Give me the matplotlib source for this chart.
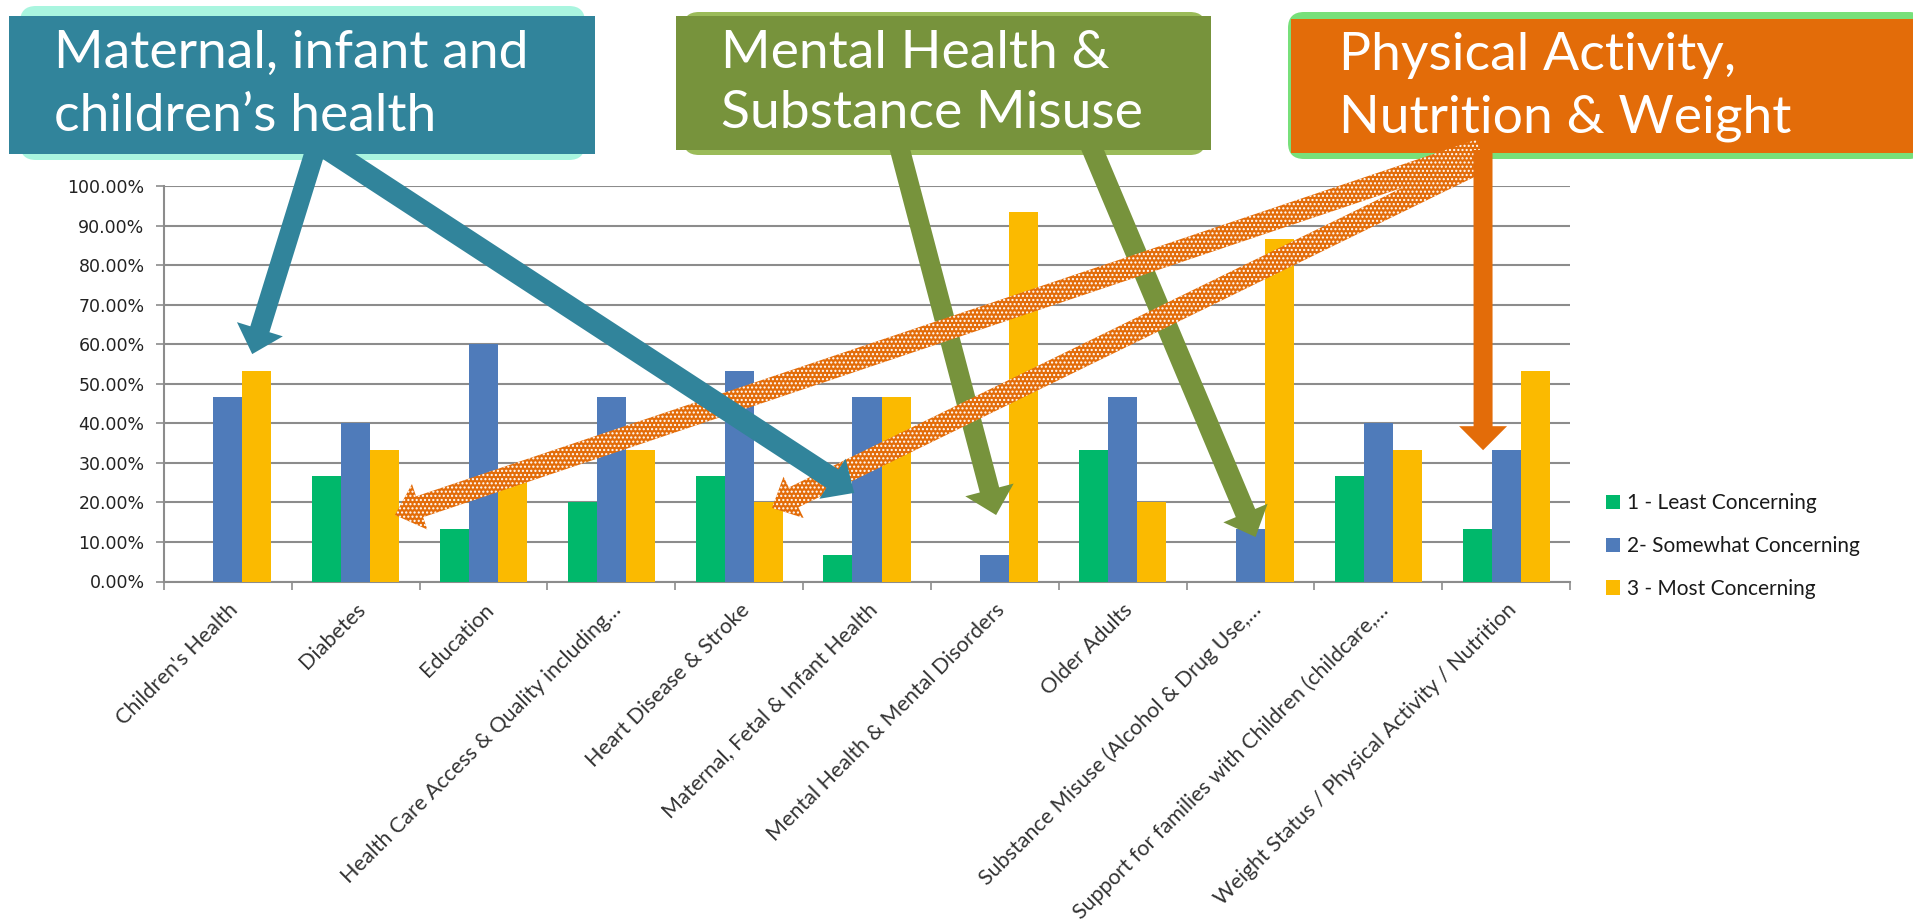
import matplotlib
matplotlib.use('Agg')
import matplotlib.pyplot as plt
import matplotlib.ticker as mticker
from matplotlib.patches import FancyBboxPatch, Rectangle, FancyArrow, Patch

W, H = 1913, 919
plt.rcParams['hatch.color'] = 'white'
plt.rcParams['hatch.linewidth'] = 1.0

# data (share of respondents, %)
categories = [
    "Children's Health",
    'Diabetes',
    'Education',
    'Health Care Access & Quality including…',
    'Heart Disease & Stroke',
    'Maternal, Fetal & Infant Health',
    'Mental Health & Mental Disorders',
    'Older Adults',
    'Substance Misuse (Alcohol & Drug Use,…',
    'Support for families with Children (childcare,…',
    'Weight Status / Physical Activity / Nutrition',
]
least = [0, 26.67, 13.33, 20.0, 26.67, 6.67, 0, 33.33, 0, 26.67, 13.33]
somewhat = [46.67, 40.0, 60.0, 46.67, 53.33, 46.67, 6.67, 46.67, 13.33, 40.0, 33.33]
most = [53.33, 33.33, 26.67, 33.33, 20.0, 46.67, 93.33, 20.0, 86.67, 33.33, 53.33]
series_names = ['1 - Least Concerning', '2- Somewhat Concerning', '3 - Most Concerning']

COLORS = {
    'green': '#00B86B',
    'blue': '#4F7BBA',
    'yellow': '#FBBA00',
    'teal': '#31849B',
    'mint': '#A9F5DF',
    'olive': '#77933C',
    'olive_light': '#9BBB59',
    'orange': '#E36C09',
    'lime': '#77E07A',
    'grid': '#8C8C8C',
}

fig = plt.figure(figsize=(W / 100, H / 100), dpi=100)
ax = fig.add_axes([164 / W, 1 - 581.5 / H, (1570 - 164) / W, (581.5 - 186) / H])

bw = 0.227
x = list(range(len(categories)))
for k, (vals, col) in enumerate(zip([least, somewhat, most],
                                    [COLORS['green'], COLORS['blue'], COLORS['yellow']])):
    ax.bar([i + (k - 1) * bw for i in x], [v / 100 for v in vals], width=bw,
           color=col, zorder=3, label=series_names[k])

ax.set_xlim(-0.5, len(categories) - 0.5)
ax.set_ylim(0, 1)
ax.set_yticks([i / 10 for i in range(11)])
ax.yaxis.set_major_formatter(mticker.FuncFormatter(lambda v, p: f'{v*100:.2f}%'))
ax.grid(True, axis='y', color=COLORS['grid'], linewidth=1.5, zorder=0)
ax.set_axisbelow(True)
for s in ['top', 'right']:
    ax.spines[s].set_visible(False)
for s in ['left', 'bottom']:
    ax.spines[s].set_color(COLORS['grid'])
    ax.spines[s].set_linewidth(1.5)
ax.tick_params(axis='y', length=6, width=1.2, color=COLORS['grid'], pad=8,
               labelsize=12.5, labelcolor='#222222')

ax.set_xticks(x)
ax.set_xticklabels(categories, rotation=45, ha='right', va='top', rotation_mode='anchor',
                   fontsize=15.5, family='Lato', color='#333333')
ax.tick_params(axis='x', which='major', length=0, pad=13)
ax.set_xticks([i - 0.5 for i in range(len(categories) + 1)], minor=True)
ax.tick_params(axis='x', which='minor', length=6, width=1.2, color=COLORS['grid'])

handles = [Patch(facecolor=c) for c in [COLORS['green'], COLORS['blue'], COLORS['yellow']]]
ax.legend(handles, series_names, loc='center left', bbox_to_anchor=(1606 / W, 1 - 546 / H),
          bbox_transform=fig.transFigure, frameon=False, borderpad=0, borderaxespad=0,
          handlelength=0.68, handleheight=0.68, handletextpad=0.35, labelspacing=1.1,
          prop={'family': 'Lato', 'size': 15}, labelcolor='#1A1A1A')

# overlay in pixel units (y down) for callout boxes and arrows
ov = fig.add_axes([0, 0, 1, 1])
ov.set_xlim(0, W)
ov.set_ylim(H, 0)
ov.axis('off')
ov.patch.set_visible(False)


def to_px(xd, yd):
    X, Y = ax.transData.transform((xd, yd))
    return X, H - Y


def callout(rect, back, color, back_color, lines, text_x, baselines):
    bx0, by0, bx1, by1 = back
    ov.add_patch(FancyBboxPatch((bx0, by0), bx1 - bx0, by1 - by0,
                                boxstyle='round,pad=0,rounding_size=16',
                                fc=back_color, ec='none', zorder=1))
    x0, y0, x1, y1 = rect
    ov.add_patch(Rectangle((x0, y0), x1 - x0, y1 - y0, fc=color, ec='none', zorder=2))
    for line, yb in zip(lines, baselines):
        ov.text(text_x, yb, line, color='white', fontsize=38.5, family='Lato',
                va='baseline', ha='left', zorder=10)


callout((9, 16, 595, 154), (20, 6, 585, 160), COLORS['teal'], COLORS['mint'],
        ['Maternal, infant and', 'children’s health'], 54, [68, 131])
callout((676, 16, 1211, 150), (683, 12, 1206, 155), COLORS['olive'], COLORS['olive_light'],
        ['Mental Health &', 'Substance Misuse'], 721, [68, 128])
callout((1291, 19, 1913, 153), (1288, 12, 1925, 159), COLORS['orange'], COLORS['lime'],
        ['Physical Activity,', 'Nutrition & Weight'], 1339, [70, 133])


def arrow(start, tip, color, width, hw, hl, z, hatch=None):
    x0, y0 = start
    x1, y1 = to_px(*tip)
    edge = 'white' if hatch else color
    a = FancyArrow(x0, y0, x1 - x0, y1 - y0, width=width, head_width=hw, head_length=hl,
                   length_includes_head=True, facecolor=color, edgecolor=edge,
                   linewidth=0, zorder=z, hatch=hatch)
    ov.add_patch(a)


arrow((899, 146), (6.01, 0.168), COLORS['olive'], 20, 50, 26, 3)
arrow((1091, 146), (8.04, 0.1125), COLORS['olive'], 21, 48, 26, 3)
arrow((1480, 150), (1.307, 0.168), COLORS['orange'], 22, 48, 26, 4, hatch='....')
arrow((1480, 162), (4.257, 0.186), COLORS['orange'], 22, 46, 24, 4, hatch='....')
arrow((316, 148), (0.19, 0.575), COLORS['teal'], 20, 48, 26, 5)
arrow((326, 148), (4.90, 0.224), COLORS['teal'], 22, 48, 26, 5)
arrow((1483, 150), (9.82, 0.332), COLORS['orange'], 19, 48, 24, 6)

fig.savefig('out.png', dpi=100)
